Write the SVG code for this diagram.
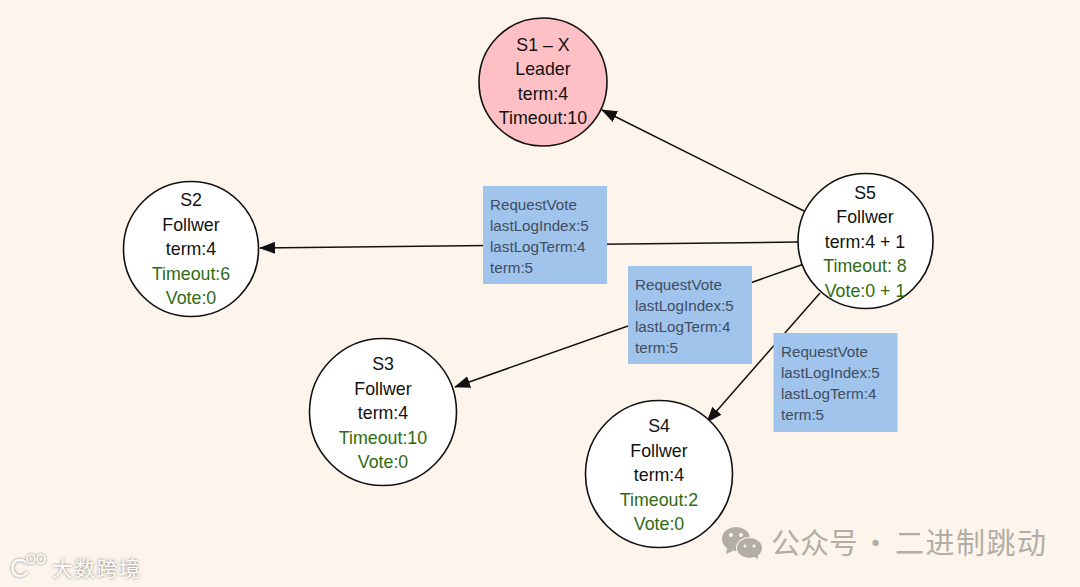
<svg xmlns="http://www.w3.org/2000/svg" width="1080" height="587" viewBox="0 0 1080 587">
<style>
.n{fill:#fff;stroke:#111;stroke-width:1.6}
.t{font:17.800px "Liberation Sans",Arial,sans-serif;fill:#111;text-anchor:middle}
.g{fill:#2f6b12}
.c{stroke:#111;stroke-width:1.5;fill:none;marker-end:url(#a)}
.b{fill:#a0c4ec}
.l{font:15.200px "Liberation Sans",Arial,sans-serif;fill:#3f4d5f}
.w{font-family:"Noto Sans CJK SC",sans-serif;fill:#b2aea6}
.k{font-family:"Noto Sans CJK SC",sans-serif;font-size:21px}
.ks{fill:#77736d;filter:url(#s)}
.kf{fill:#fff}
</style>
<defs><marker id="a" markerUnits="userSpaceOnUse" markerWidth="16" markerHeight="12" refX="15" refY="6" orient="auto"><path d="M0 0L16 6L0 12Z" fill="#111"/></marker>
<filter id="s" x="-20%" y="-40%" width="140%" height="180%"><feGaussianBlur stdDeviation="1.500"/></filter></defs>
<rect width="1080" height="587" fill="#fdf5ec"/>
<g id="connectors">
<line class="c" x1="804" y1="211" x2="602" y2="110"/>
<line class="c" x1="798" y1="242" x2="260" y2="248"/>
<line class="c" x1="804" y1="264" x2="455" y2="387"/>
<line class="c" x1="820" y1="293" x2="707" y2="422"/>
</g>
<g id="s1"><circle cx="543" cy="82" r="64" fill="#ffc0c5" stroke="#111" stroke-width="1.6"/>
<text class="t" x="543" y="51">S1 – X</text><text class="t" x="543" y="75">Leader</text><text class="t" x="543" y="100">term:4</text><text class="t" x="543" y="124">Timeout:10</text></g>
<g id="s2"><circle class="n" cx="191" cy="249" r="67.500"/>
<text class="t" x="191" y="206">S2</text><text class="t" x="191" y="231">Follwer</text><text class="t" x="191" y="255">term:4</text><text class="t g" x="191" y="280">Timeout:6</text><text class="t g" x="191" y="304">Vote:0</text></g>
<g id="s3"><circle class="n" cx="383" cy="412" r="73.500"/>
<text class="t" x="383" y="370">S3</text><text class="t" x="383" y="395">Follwer</text><text class="t" x="383" y="419">term:4</text><text class="t g" x="383" y="444">Timeout:10</text><text class="t g" x="383" y="468">Vote:0</text></g>
<g id="s4"><circle class="n" cx="659" cy="474" r="73.500"/>
<text class="t" x="659" y="432">S4</text><text class="t" x="659" y="457">Follwer</text><text class="t" x="659" y="481">term:4</text><text class="t g" x="659" y="506">Timeout:2</text><text class="t g" x="659" y="530">Vote:0</text></g>
<g id="s5"><circle class="n" cx="865.500" cy="241" r="67.500"/>
<text class="t" x="865" y="199">S5</text><text class="t" x="865" y="223">Follwer</text><text class="t" x="865" y="248">term:4 + 1</text><text class="t g" x="865" y="272">Timeout: 8</text><text class="t g" x="865" y="297">Vote:0 + 1</text></g>
<g id="label-1"><rect class="b" x="483" y="186" width="124" height="98"/>
<text class="l" x="490" y="210">RequestVote</text><text class="l" x="490" y="231">lastLogIndex:5</text><text class="l" x="490" y="252">lastLogTerm:4</text><text class="l" x="490" y="273">term:5</text></g>
<g id="label-2"><rect class="b" x="628" y="266" width="124" height="98"/>
<text class="l" x="635" y="290">RequestVote</text><text class="l" x="635" y="311">lastLogIndex:5</text><text class="l" x="635" y="332">lastLogTerm:4</text><text class="l" x="635" y="353">term:5</text></g>
<g id="label-3"><rect class="b" x="773.500" y="333" width="124" height="99"/>
<text class="l" x="781" y="357">RequestVote</text><text class="l" x="781" y="378">lastLogIndex:5</text><text class="l" x="781" y="399">lastLogTerm:4</text><text class="l" x="781" y="420">term:5</text></g>
<g id="watermark-right">
<ellipse cx="736" cy="539" rx="14" ry="12" fill="#b2aea6"/><path d="M727 548l-1 6 7-3Z" fill="#b2aea6"/>
<ellipse cx="749.500" cy="548" rx="13.500" ry="11" fill="#fdf5ec"/><ellipse cx="749.500" cy="548" rx="12.500" ry="10" fill="#b2aea6"/><path d="M753 556l5 3 0-6Z" fill="#b2aea6"/>
<circle cx="731" cy="535" r="2" fill="#fdf5ec"/><circle cx="741" cy="535" r="2" fill="#fdf5ec"/><circle cx="745" cy="546" r="1.500" fill="#fdf5ec"/><circle cx="754" cy="546" r="1.500" fill="#fdf5ec"/>
<text class="w" x="771" y="554" font-size="29">公众号</text><text class="w" x="861" y="554" font-size="29">·</text><text class="w" x="895" y="554" font-size="29" textLength="151">二进制跳动</text></g>
<g id="watermark-left">
<text class="k ks" x="52" y="576" textLength="88">大数跨境</text>
<text class="k kf" x="52" y="576" textLength="88">大数跨境</text>
<text class="ks" x="10" y="577" font-size="26" font-family="Liberation Sans,sans-serif">C</text>
<text class="kf" x="10" y="577" font-size="26" font-family="Liberation Sans,sans-serif">C</text>
<g fill="none" stroke-width="1.600"><g stroke="#77736d" filter="url(#s)"><ellipse cx="31" cy="559" rx="4" ry="4.500"/><ellipse cx="41" cy="559" rx="4" ry="4.500"/></g>
<g stroke="#fff"><ellipse cx="31" cy="559" rx="4" ry="4.500"/><ellipse cx="41" cy="559" rx="4" ry="4.500"/></g></g></g>
</svg>
